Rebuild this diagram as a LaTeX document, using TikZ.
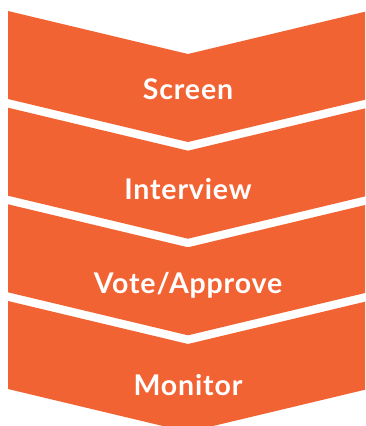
\documentclass[tikz,border=0pt]{standalone}
\usepackage{fontspec}
\setmainfont{Lato}[LetterSpace=3]
\definecolor{chevorange}{HTML}{F26333}
\begin{document}
\begin{tikzpicture}[x=1pt,y=-1pt,
  chevron/.style={fill=chevorange},
  steplabel/.style={text=white,font=\fontsize{28.5}{30}\selectfont\bfseries,anchor=base,inner sep=0pt}]
\useasboundingbox (0,0) rectangle (365,426);
\clip (0,0) rectangle (365,426);
% one chevron per step, top-left corner at (8,t)
\foreach \t in {11,107.7,204.3,301}{
  \fill[chevron] (8,\t) -- (188,\t+43) -- (368,\t) -- (368,\t+88)
    -- (188,\t+131) -- (8,\t+88) -- cycle;
}
\node[steplabel] (screen) at (188,99.3) {Screen};
\node[steplabel] (interview) at (188,199.3) {Interview};
\node[steplabel] (vote) at (188,293.3) {Vote/Approve};
\node[steplabel] (monitor) at (188,395) {Monitor};
\end{tikzpicture}
\end{document}
